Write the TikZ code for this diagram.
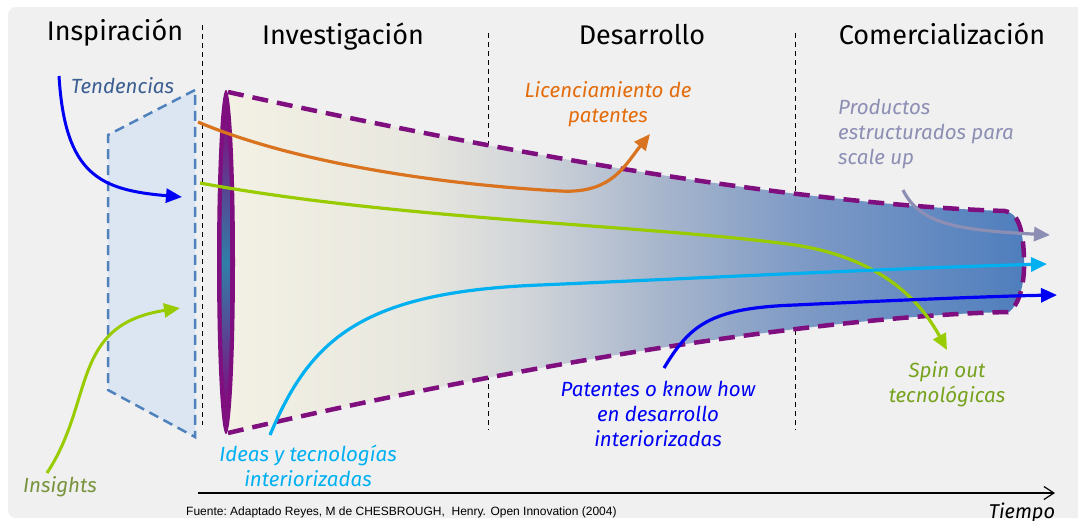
\documentclass[tikz,border=0pt]{standalone}
\usepackage{fontspec}
\setmainfont{Fira Sans}
\newfontfamily\srcfont{Liberation Sans}
\usetikzlibrary{arrows.meta}

\definecolor{bggray}{HTML}{F0F0F0}
\definecolor{trapfill}{HTML}{DCE6F2}
\definecolor{trapline}{HTML}{4F81BD}
\definecolor{funpurple}{HTML}{7F0F7F}
\definecolor{funteal}{HTML}{2F7FA8}
\definecolor{funA}{HTML}{F3F1E4}
\definecolor{funB}{HTML}{E8E7DF}
\definecolor{funC}{HTML}{D0D4D9}
\definecolor{funD}{HTML}{A8B6CC}
\definecolor{funE}{HTML}{7E9AC6}
\definecolor{funF}{HTML}{4F7EBD}
\definecolor{licorange}{HTML}{D9731F}
\definecolor{lictext}{HTML}{E46C0A}
\definecolor{spingreen}{HTML}{99CC00}
\definecolor{spintext}{HTML}{76A21E}
\definecolor{ideablue}{HTML}{00B0F0}
\definecolor{patblue}{HTML}{0000F5}
\definecolor{prodgray}{HTML}{8C8EB4}
\definecolor{tendtext}{HTML}{3B5E92}
\definecolor{instext}{HTML}{77933C}

\pgfdeclarehorizontalshading{funnelshade}{100bp}{color(0bp)=(funA); color(25bp)=(funA);
  color(37bp)=(funB); color(44bp)=(funC); color(52bp)=(funD); color(61bp)=(funE);
  color(75bp)=(funF); color(100bp)=(funF)}

\begin{document}
\begin{tikzpicture}[x=1pt, y=-1pt,
    phase/.style={font=\fontsize{27}{30}\selectfont, inner sep=0pt, anchor=base},
    lbl/.style={font=\fontsize{20.5}{25}\selectfont\itshape, inner sep=0pt, align=center, anchor=north},
    flow/.style={line width=3.2pt, -{Triangle[length=16pt,width=14pt]}},
    stage/.style={dash pattern=on 5pt off 4pt, line width=0.9pt},
    rim/.style={funpurple, line width=4.5pt, dash pattern=on 16pt off 9pt}]
	\useasboundingbox (0,0) rectangle (1078,520);

	% background
	\fill[bggray, rounded corners=8pt] (8,7) rectangle (1090,518);

	% phases
	\node[phase] (insp) at (115,40) {Inspiración};
	\node[phase] (inv)  at (343,44) {Investigación};
	\node[phase] (des)  at (642,44) {Desarrollo};
	\node[phase] (com)  at (942,44) {Comercialización};

	% stage borders
	\draw[stage] (202,25) -- (202,425)
	             (488,33) -- (488,430)
	             (795,33) -- (795,430);

	% inspiration screen
	\filldraw[fill=trapfill, draw=trapline, line width=2.5pt, dash pattern=on 10pt off 6pt]
		(195,90) -- (108,135) -- (108,390) -- (195,437) -- cycle;

	% funnel
	\coordinate (ftl) at (228,92);
	\coordinate (ftr) at (1005,211);
	\coordinate (fbr) at (1009,312);
	\coordinate (fbl) at (228,433);
	\shade[shading=funnelshade]
		(ftl) .. controls (560,165) and (820,205) .. (ftr)
		      .. controls (1018,213) and (1023,228) .. (1024,258)
		      .. controls (1025,288) and (1018,305) .. (fbr)
		      .. controls (850,315) and (560,355) .. (fbl) -- cycle;
	\draw[rim]
		(ftl) .. controls (560,165) and (820,205) .. (ftr)
		      .. controls (1018,213) and (1023,228) .. (1024,258)
		      .. controls (1025,288) and (1018,305) .. (fbr)
		      .. controls (850,315) and (560,355) .. (fbl);
	\fill[funpurple] (226,262) ellipse [x radius=9, y radius=172];
	\shade[top color=funpurple, bottom color=funpurple, middle color=funteal]
		(226,262) ellipse [x radius=4.5, y radius=140];

	% labels
	\node[lbl, text=tendtext, anchor=base west] (tend) at (71,93) {Tendencias};
	\node[lbl, text=lictext] (lic) at (608,81) {Licenciamiento de\\patentes};
	\node[lbl, text=prodgray, align=left, anchor=north west] (prod) at (838,99) {Productos\\estructurados para\\scale up};
	\node[lbl, text=spintext] (spin) at (947,361) {Spin out\\tecnológicas};
	\node[lbl, text=patblue] (pat) at (658,381) {Patentes o know how\\en desarrollo\\interiorizadas};
	\node[lbl, text=ideablue] (idea) at (308,445) {Ideas y tecnologías\\interiorizadas};
	\node[lbl, text=instext, anchor=base] (ins) at (60,492) {Insights};

	% flows
	\coordinate (tend0) at (59,76);    \coordinate (tend1) at (182,197);
	\coordinate (ins0)  at (47,473);   \coordinate (ins1)  at (180,308);
	\coordinate (lic0)  at (198,122);  \coordinate (licm)  at (560,191);  \coordinate (lic1) at (650,134);
	\coordinate (spin0) at (200,183);  \coordinate (spinm) at (795,245);  \coordinate (spin1) at (947,350);
	\coordinate (idea0) at (270,435);  \coordinate (ideam) at (540,285);  \coordinate (idea1) at (1047,264);
	\coordinate (pat0)  at (664,368);  \coordinate (patm)  at (795,305);  \coordinate (pat1) at (1057,295);
	\coordinate (prod0) at (903,190);  \coordinate (prod1) at (1050,235);
	\draw[flow, patblue, line width=3pt] (tend0) .. controls (65,175) and (100,190) .. (tend1);
	\draw[flow, spingreen, line width=3pt] (ins0) .. controls (95,400) and (70,325) .. (ins1);
	\draw[flow, licorange] (lic0) .. controls (300,165) and (450,185) .. (licm)
	                              .. controls (612,194) and (625,165) .. (lic1);
	\draw[flow, spingreen] (spin0) .. controls (400,220) and (650,225) .. (spinm)
	                               .. controls (880,258) and (920,300) .. (spin1);
	\draw[flow, ideablue] (idea0) .. controls (310,340) and (360,292) .. (ideam)
	                              .. controls (700,278) and (900,268) .. (idea1);
	\draw[flow, patblue] (pat0) .. controls (690,325) and (710,308) .. (patm)
	                            .. controls (900,300) and (1000,296) .. (pat1);
	\draw[flow, prodgray] (prod0) .. controls (920,225) and (960,230) .. (prod1);

	% time axis
	\coordinate (t0) at (198,493);
	\coordinate (t1) at (1055,493);
	\draw[line width=1.2pt, -{Straight Barb[length=10pt,width=13pt]}] (t0) -- (t1);
	\node[font=\fontsize{20}{24}\selectfont\itshape, inner sep=0pt, anchor=base] (time) at (1022,518) {Tiempo};
	\node[font=\srcfont\fontsize{12}{14}\selectfont, inner sep=0pt, anchor=base west] (src) at (186,515)
		{Fuente:\ Adaptado\ Reyes, M de CHESBROUGH,\ \ Henry. Open\ Innovation\ (2004)};
\end{tikzpicture}
\end{document}
